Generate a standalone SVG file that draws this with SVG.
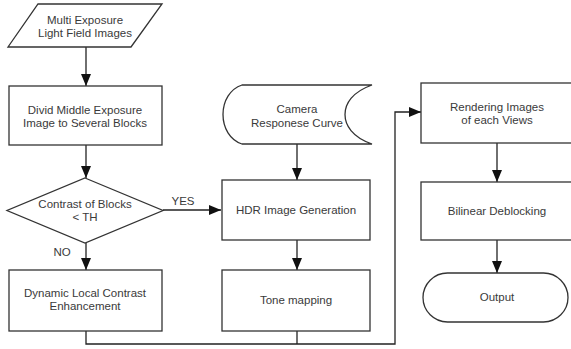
<svg xmlns="http://www.w3.org/2000/svg" width="571" height="349" viewBox="0 0 571 349">
<defs>
<marker id="ah" markerWidth="12" markerHeight="10" refX="12" refY="5" orient="auto" markerUnits="userSpaceOnUse">
<path d="M0,0 L12,5 L0,10 Z" fill="#111"/>
</marker>
<style>
.s{fill:#fff;stroke:#333;stroke-width:1.3}
.c{fill:none;stroke:#222;stroke-width:1.3}
text{font-family:"Liberation Sans",Arial,sans-serif;font-size:11.5px;fill:#3a3a3a;text-anchor:middle}
</style>
</defs>
<rect width="571" height="349" fill="#fff"/>
<g id="connectors">
<path class="c" d="M86,47 V86" marker-end="url(#ah)"/>
<path class="c" d="M86,145 V178" marker-end="url(#ah)"/>
<path class="c" d="M86,243 V270" marker-end="url(#ah)"/>
<path class="c" d="M163,210 H221" marker-end="url(#ah)"/>
<path class="c" d="M297,144 V180" marker-end="url(#ah)"/>
<path class="c" d="M297,240 V270" marker-end="url(#ah)"/>
<path class="c" d="M86,331 V344 H395 V112 H421" marker-end="url(#ah)"/>
<path class="c" d="M297,331 V344"/>
<path class="c" d="M497,143 V182" marker-end="url(#ah)"/>
<path class="c" d="M497,240 V273" marker-end="url(#ah)"/>
<text x="183" y="205">YES</text>
<text x="62" y="256">NO</text>
</g>
<g id="n1">
<path class="s" d="M38,4 H162 L131,47 H8 Z"/>
<text x="85" y="24">Multi Exposure</text>
<text x="85" y="37">Light Field Images</text>
</g>
<g id="n2">
<rect class="s" x="9" y="86" width="153" height="59"/>
<text x="85" y="114">Divid Middle Exposure</text>
<text x="85" y="127">Image to Several Blocks</text>
</g>
<g id="n3">
<path class="s" d="M85,178 L163,210.5 L85,243 L7,210.5 Z"/>
<text x="85" y="208">Contrast of Blocks</text>
<text x="85" y="221">&lt; TH</text>
</g>
<g id="n4">
<rect class="s" x="9" y="270" width="153" height="61"/>
<text x="85" y="297">Dynamic Local Contrast</text>
<text x="85" y="310">Enhancement</text>
</g>
<g id="n5">
<path class="s" d="M242,85 H372 C352,92 345,104 345,114.5 C345,125 352,137 372,144 H242 C230,140 223,128 223,114.5 C223,101 230,89 242,85 Z"/>
<text x="297" y="113">Camera</text>
<text x="297" y="127">Responese Curve</text>
</g>
<g id="n6">
<rect class="s" x="222" y="180" width="148" height="60"/>
<text x="296" y="214">HDR Image Generation</text>
</g>
<g id="n7">
<rect class="s" x="222" y="270" width="148" height="61"/>
<text x="296" y="304">Tone mapping</text>
</g>
<g id="n8">
<rect class="s" x="421" y="83" width="152" height="60"/>
<text x="497" y="111">Rendering Images</text>
<text x="497" y="124">of each Views</text>
</g>
<g id="n9">
<rect class="s" x="421" y="182" width="152" height="58"/>
<text x="497" y="215">Bilinear Deblocking</text>
</g>
<g id="n10">
<rect class="s" x="423" y="273" width="145" height="49" rx="24.5" ry="24.5"/>
<text x="497" y="301">Output</text>
</g>
</svg>
